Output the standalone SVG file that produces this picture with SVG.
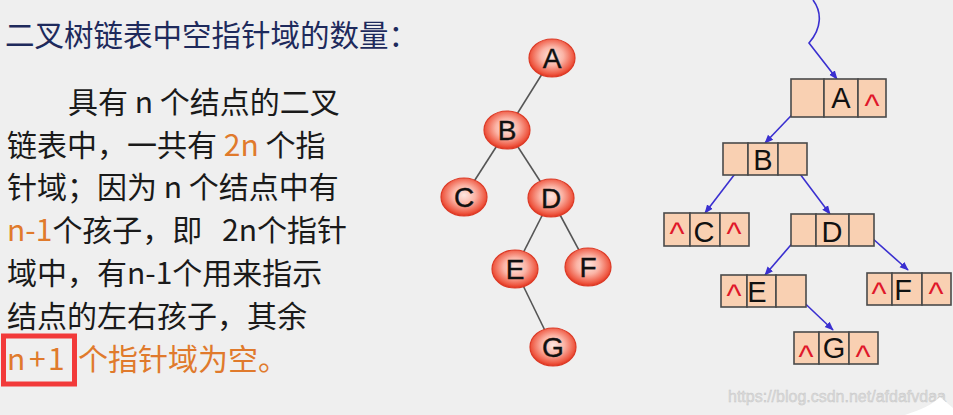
<svg xmlns="http://www.w3.org/2000/svg" width="953" height="415" viewBox="0 0 953 415">
<defs>
<radialGradient id="ball" cx="0.5" cy="0.45" r="0.55">
<stop offset="0" stop-color="#fde6e0"/>
<stop offset="0.45" stop-color="#fbb4a6"/>
<stop offset="0.85" stop-color="#ef5a44"/>
<stop offset="1" stop-color="#e2341f"/>
</radialGradient>
<marker id="ah" viewBox="0 0 10 10" refX="9" refY="5" markerWidth="9" markerHeight="9" markerUnits="userSpaceOnUse" orient="auto">
<path d="M0,1 L10,5 L0,9 Z" fill="#3a2fd0"/>
</marker>
<style>
.t{font-family:"Noto Sans CJK SC","Noto Sans",sans-serif;font-size:30px;fill:#1a1a1a}
.o{fill:#e07a2c}
.title{font-family:"Noto Sans CJK SC","Noto Sans",sans-serif;font-size:29.5px;fill:#1e2a5c}
.ball{fill:url(#ball);stroke:#dc3a26;stroke-width:1.2}
.bl{font-family:"Liberation Sans",Arial,sans-serif;font-size:28px;fill:#111;stroke:#111;stroke-width:0.4;text-anchor:middle}
.edge{stroke:#555;stroke-width:1.6;fill:none}
.cell{fill:#f9d0b2;stroke:#4a4a4a;stroke-width:1.6}
.cl{font-family:"Liberation Sans",Arial,sans-serif;font-size:29px;fill:#111;text-anchor:middle}
.nil{font-family:"Liberation Sans",Arial,sans-serif;font-size:32px;fill:#e0182a;text-anchor:middle}
.ptr{stroke:#3a2fd0;stroke-width:1.6;fill:none;marker-end:url(#ah)}
</style>
</defs>
<rect width="953" height="415" fill="#efefef"/>

<g id="text">
<text class="title" x="5" y="46">二叉树链表中空指针域的数量：</text>
<text class="t" x="68" y="113">具有 n 个结点的二叉</text>
<text class="t" x="7" y="156">链表中，一共有 <tspan class="o">2n</tspan> 个指</text>
<text class="t" x="7" y="198">针域；因为 n 个结点中有</text>
<text class="t" x="7" y="241"><tspan class="o">n-1</tspan>个孩子，即 <tspan x="222">2n个指针</tspan></text>
<text class="t" x="7" y="284">域中，有n-1个用来指示</text>
<text class="t" x="7" y="327">结点的左右孩子，其余</text>
<text class="t o" x="7" y="370"><tspan x="7">n</tspan><tspan x="29">+</tspan><tspan x="48">1</tspan><tspan x="78">个指针域为空。</tspan></text>
<rect x="3.5" y="336" width="71" height="48" fill="none" stroke="#f23a3a" stroke-width="5"/>
</g>

<g id="tree-edges">
<line class="edge" x1="552" y1="58" x2="507" y2="130"/>
<line class="edge" x1="507" y1="130" x2="464" y2="197"/>
<line class="edge" x1="507" y1="130" x2="551" y2="198"/>
<line class="edge" x1="551" y1="198" x2="515" y2="269"/>
<line class="edge" x1="551" y1="198" x2="588" y2="267"/>
<line class="edge" x1="515" y1="269" x2="553" y2="347"/>
</g>
<g id="tA"><ellipse class="ball" cx="552" cy="58" rx="23" ry="19"/><text class="bl" x="552" y="68">A</text></g>
<g id="tB"><ellipse class="ball" cx="507" cy="130" rx="23" ry="19"/><text class="bl" x="507" y="140">B</text></g>
<g id="tC"><ellipse class="ball" cx="464" cy="197" rx="23" ry="19"/><text class="bl" x="464" y="207">C</text></g>
<g id="tD"><ellipse class="ball" cx="551" cy="198" rx="23" ry="19"/><text class="bl" x="551" y="208">D</text></g>
<g id="tE"><ellipse class="ball" cx="515" cy="269" rx="23" ry="19"/><text class="bl" x="515" y="279">E</text></g>
<g id="tF"><ellipse class="ball" cx="588" cy="267" rx="23" ry="19"/><text class="bl" x="588" y="277">F</text></g>
<g id="tG"><ellipse class="ball" cx="553" cy="347" rx="23" ry="19"/><text class="bl" x="553" y="357">G</text></g>

<g id="pointers">
<path class="ptr" d="M813,0 C822,12 822,28 809,43 L837,79"/>
<line class="ptr" x1="808" y1="98" x2="765" y2="143"/>
<line class="ptr" x1="741" y1="166" x2="705" y2="213"/>
<line class="ptr" x1="794" y1="166" x2="830" y2="214"/>
<line class="ptr" x1="802" y1="232" x2="765" y2="275"/>
<line class="ptr" x1="863" y1="230" x2="908" y2="270"/>
<line class="ptr" x1="794" y1="293" x2="833" y2="330"/>
</g>

<g id="nA">
<rect class="cell" x="791" y="79" width="33" height="38"/><rect class="cell" x="824" y="79" width="34" height="38"/><rect class="cell" x="858" y="79" width="28" height="38"/>
<text class="cl" x="841" y="108">A</text><text class="nil" x="872" y="116">^</text>
</g>
<g id="nB">
<rect class="cell" x="723" y="143" width="25" height="32"/><rect class="cell" x="748" y="143" width="30" height="32"/><rect class="cell" x="778" y="143" width="29" height="32"/>
<text class="cl" x="763" y="170">B</text>
</g>
<g id="nC">
<rect class="cell" x="664" y="213" width="26" height="33"/><rect class="cell" x="690" y="213" width="30" height="33"/><rect class="cell" x="720" y="213" width="29" height="33"/>
<text class="cl" x="704" y="242">C</text><text class="nil" x="677" y="244">^</text><text class="nil" x="734" y="244">^</text>
</g>
<g id="nD">
<rect class="cell" x="791" y="214" width="25" height="32"/><rect class="cell" x="816" y="214" width="33" height="32"/><rect class="cell" x="849" y="214" width="25" height="32"/>
<text class="cl" x="832" y="242">D</text>
</g>
<g id="nE">
<rect class="cell" x="721" y="275" width="26" height="32"/><rect class="cell" x="747" y="275" width="29" height="32"/><rect class="cell" x="776" y="275" width="30" height="32"/>
<text class="cl" x="757" y="302">E</text><text class="nil" x="734" y="306">^</text>
</g>
<g id="nF">
<rect class="cell" x="867" y="273" width="25" height="32"/><rect class="cell" x="892" y="273" width="30" height="32"/><rect class="cell" x="922" y="273" width="29" height="32"/>
<text class="cl" x="903" y="300">F</text><text class="nil" x="879" y="304">^</text><text class="nil" x="936" y="304">^</text>
</g>
<g id="nG">
<rect class="cell" x="794" y="332" width="25" height="32"/><rect class="cell" x="819" y="332" width="30" height="32"/><rect class="cell" x="849" y="332" width="29" height="32"/>
<text class="cl" x="834" y="358">G</text><text class="nil" x="806" y="367">^</text><text class="nil" x="863" y="367">^</text>
</g>

<text x="728" y="402" font-family="Liberation Sans,Arial,sans-serif" font-size="16" fill="#dcdcdc" stroke="#c4c4c4" stroke-width="0.4">https://blog.csdn.net/afdafvdaa</text>
<path d="M940,397 L953,408 L953,415 L905,415 C920,410 932,405 940,397 Z" fill="#ffffff"/>
</svg>
